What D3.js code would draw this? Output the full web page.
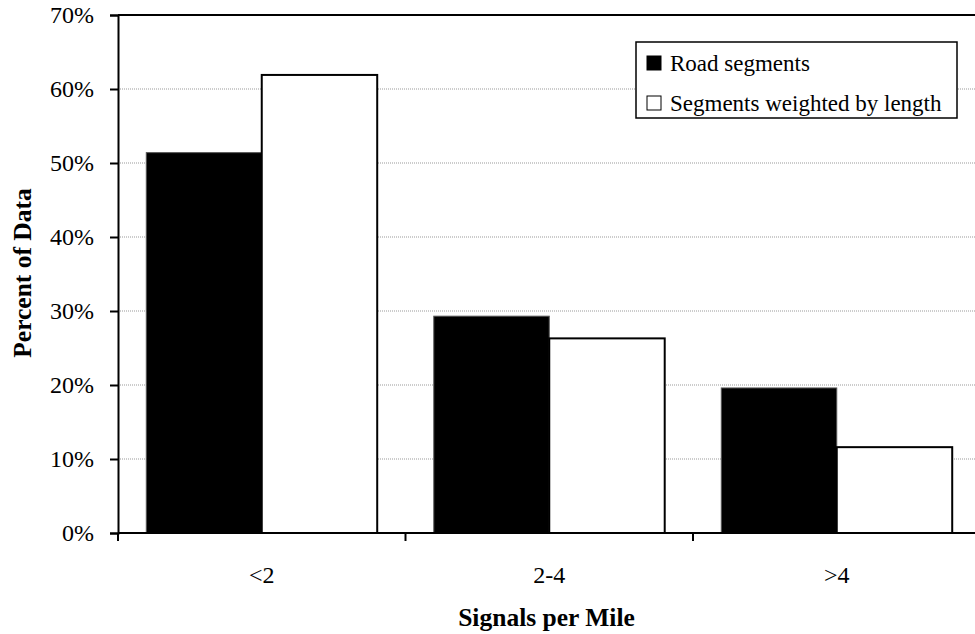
<!DOCTYPE html>
<html>
<head>
<meta charset="utf-8">
<script src="https://cdn.jsdelivr.net/npm/d3@7"></script>
<style>
  html, body { margin: 0; padding: 0; background: #fff; }
  svg { display: block; }
  text { font-family: "Liberation Serif", "Times New Roman", serif; fill: #000; }
</style>
</head>
<body>
<svg id="chart" width="975" height="634"></svg>
<script>
const categories = ["<2", "2-4", ">4"];
const seriesNames = ["Road segments", "Segments weighted by length"];
const roadSegments = [51.4, 29.3, 19.6];
const weightedByLength = [61.9, 26.3, 11.6];
const yTicks = [0, 10, 20, 30, 40, 50, 60, 70];

const seriesValues = [roadSegments, weightedByLength];
const seriesFill = ["#000", "#fff"];

const svg = d3.select("#chart");
const mLeft = 118, mTop = 15, mBottom = 533, mRight = 980.5;

const x = d3.scaleBand().domain(categories).range([mLeft, mRight]).paddingInner(0).paddingOuter(0);
const xSub = d3.scaleBand().domain(d3.range(seriesNames.length)).range([0, x.bandwidth()]).paddingInner(0).paddingOuter(0.245);
const y = d3.scaleLinear().domain([0, 70]).range([mBottom, mTop]);

// gridlines
svg.append("g").selectAll("line").data(yTicks.filter(t => t > 0 && t < 70)).join("line")
  .attr("x1", mLeft).attr("x2", 975)
  .attr("y1", d => y(d)).attr("y2", d => y(d))
  .attr("stroke", "#999").attr("stroke-width", 1).attr("stroke-dasharray", "1,1");

// bars
const groups = svg.append("g").selectAll("g").data(categories).join("g")
  .attr("transform", d => `translate(${x(d)},0)`);
groups.selectAll("rect").data((c, i) => seriesValues.map((s, k) => ({k, v: s[i]}))).join("rect")
  .attr("x", d => xSub(d.k))
  .attr("width", xSub.bandwidth())
  .attr("y", d => y(d.v))
  .attr("height", d => y(0) - y(d.v))
  .attr("fill", d => seriesFill[d.k])
  .attr("stroke", d => d.k === 0 ? "#555" : "#000")
  .attr("stroke-width", d => d.k === 0 ? 1 : 2);

// top border
svg.append("line").attr("x1", mLeft).attr("x2", 975).attr("y1", mTop).attr("y2", mTop)
  .attr("stroke", "#000").attr("stroke-width", 2);

// y axis
const yAxis = d3.axisLeft(y).tickValues(yTicks).tickFormat(d => d + "%").tickSize(8).tickPadding(16);
const gy = svg.append("g").attr("transform", `translate(${mLeft},0)`).call(yAxis);
gy.select(".domain").attr("stroke", "#000").attr("stroke-width", 2);
gy.selectAll(".tick line").attr("stroke", "#000").attr("stroke-width", 2);
gy.selectAll(".tick text").attr("font-size", 24).attr("font-family", "Liberation Serif").attr("fill", "#000");

// x axis
const xTickPos = categories.map(c => x(c)).concat([x(categories[categories.length - 1]) + x.bandwidth()]);
const gx = svg.append("g");
gx.append("line").attr("x1", mLeft).attr("x2", 975).attr("y1", mBottom).attr("y2", mBottom)
  .attr("stroke", "#000").attr("stroke-width", 2);
gx.selectAll("line.tk").data(xTickPos).join("line").attr("class", "tk")
  .attr("x1", d => d).attr("x2", d => d).attr("y1", mBottom).attr("y2", mBottom + 8)
  .attr("stroke", "#000").attr("stroke-width", 2);
gx.selectAll("text").data(categories).join("text")
  .attr("x", d => x(d) + x.bandwidth() / 2).attr("y", 575)
  .attr("text-anchor", "middle").attr("dominant-baseline", "central")
  .attr("font-size", 24).text(d => d);

// axis titles
svg.append("text").attr("x", (mLeft + 975) / 2).attr("y", 617)
  .attr("text-anchor", "middle").attr("dominant-baseline", "central")
  .attr("font-size", 25.5).attr("font-weight", "bold").text("Signals per Mile");
svg.append("text").attr("transform", `translate(22,273) rotate(-90)`)
  .attr("text-anchor", "middle").attr("dominant-baseline", "central")
  .attr("font-size", 25.5).attr("font-weight", "bold").text("Percent of Data");

// legend
const lg = svg.append("g");
lg.append("rect").attr("x", 636).attr("y", 42).attr("width", 321).attr("height", 76)
  .attr("fill", "#fff").attr("stroke", "#000").attr("stroke-width", 1.5);
const rows = lg.selectAll("g").data(seriesNames).join("g")
  .attr("transform", (d, i) => `translate(647,${63 + i * 40})`);
rows.append("rect").attr("x", 0).attr("y", -7).attr("width", 14).attr("height", 14)
  .attr("fill", (d, i) => seriesFill[i]).attr("stroke", "#000").attr("stroke-width", 1);
rows.append("text").attr("x", 23).attr("y", 0).attr("dominant-baseline", "central")
  .attr("font-size", 23).text(d => d);
</script>
</body>
</html>
